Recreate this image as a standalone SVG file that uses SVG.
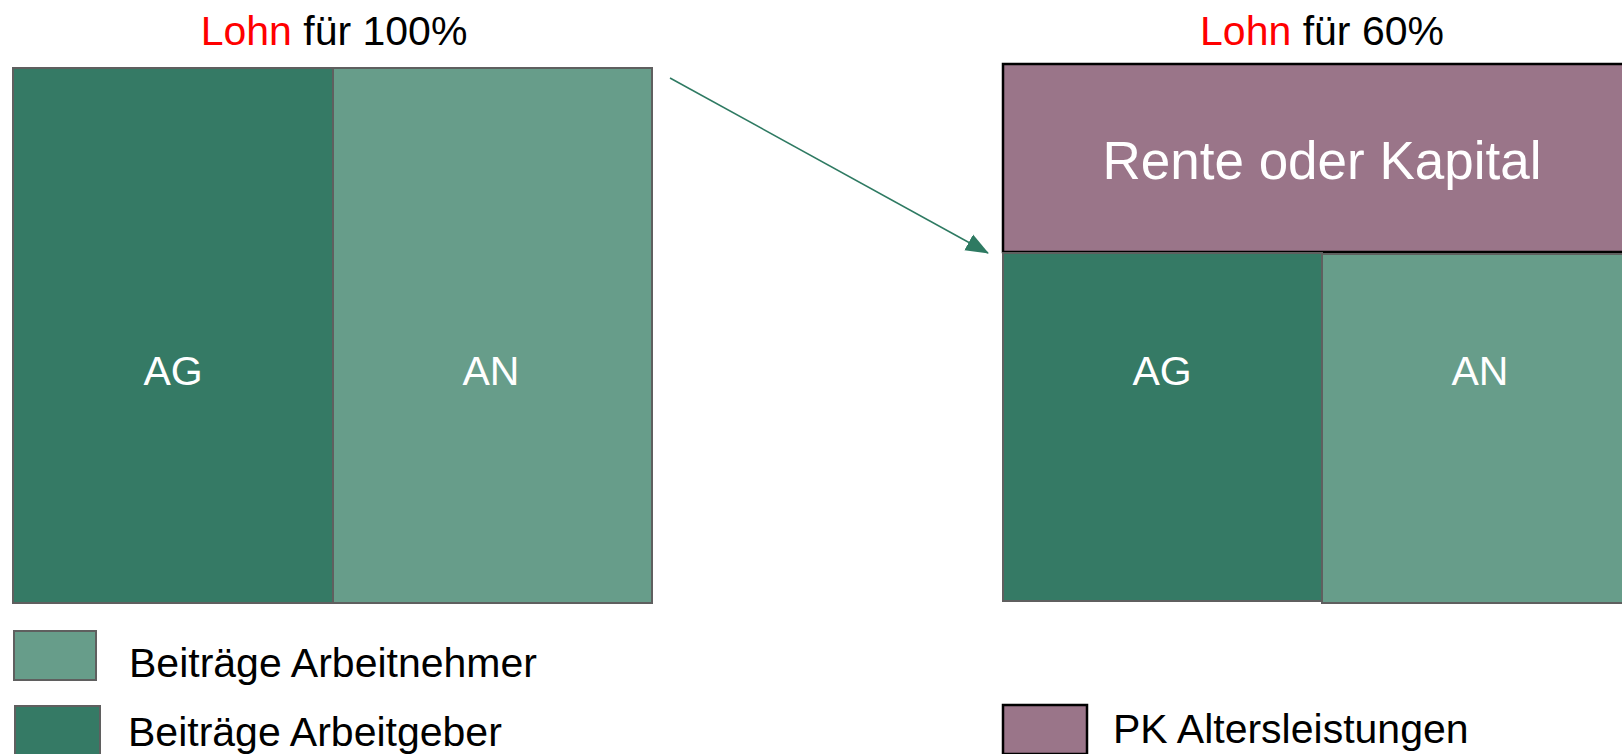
<svg xmlns="http://www.w3.org/2000/svg" width="1622" height="754" viewBox="0 0 1622 754">
<style>
text{font-family:"Liberation Sans",Arial,sans-serif;}
.ag{fill:#357A65;stroke:#5f5f5f;stroke-width:2;}
.an{fill:#679D8A;stroke:#5f5f5f;stroke-width:2;}
.pk{fill:#9A7589;stroke:#000;stroke-width:2.5;}
.lbl{fill:#fff;font-size:41px;text-anchor:middle;}
.title{fill:#000;font-size:41px;text-anchor:middle;}
.red{fill:#FF0000;}
.leg{fill:#000;font-size:41px;}
.conn{stroke:#2E7A62;stroke-width:1.5;fill:none;}
</style>
<defs>
<marker id="ah" markerUnits="userSpaceOnUse" markerWidth="24" markerHeight="20" viewBox="0 0 24 20" refX="22" refY="10" orient="auto">
<path d="M0,1 L23,10 L0,19 Z" fill="#2E7A62"/>
</marker>
</defs>
<rect width="1622" height="754" fill="#fff"/>
<g id="title-left"><text class="title" x="334" y="45"><tspan class="red">Lohn</tspan> für 100%</text></g>
<g id="title-right"><text class="title" x="1322" y="45"><tspan class="red">Lohn</tspan> für 60%</text></g>
<g id="left-ag"><rect class="ag" x="13" y="68" width="320" height="535"/><text class="lbl" x="173" y="385">AG</text></g>
<g id="left-an"><rect class="an" x="333" y="68" width="319" height="535"/><text class="lbl" x="491" y="385">AN</text></g>
<g id="right-pk"><rect class="pk" x="1003" y="64" width="640" height="188"/><text class="lbl" x="1322" y="179" style="font-size:53px">Rente oder Kapital</text></g>
<g id="right-ag"><rect class="ag" x="1003" y="253" width="319" height="348"/><text class="lbl" x="1162" y="385">AG</text></g>
<g id="right-an"><rect class="an" x="1322" y="254" width="320" height="349"/><text class="lbl" x="1480" y="385">AN</text></g>
<g id="legend-an"><rect class="an" x="14" y="631" width="82" height="49"/><text class="leg" x="129" y="677">Beiträge Arbeitnehmer</text></g>
<g id="legend-ag"><rect class="ag" x="15" y="706" width="85" height="50"/><text class="leg" x="128" y="746">Beiträge Arbeitgeber</text></g>
<g id="legend-pk"><rect class="pk" x="1003" y="705" width="84" height="49"/><text class="leg" x="1113" y="743">PK Altersleistungen</text></g>
<g id="connectors"><line class="conn" x1="670" y1="78" x2="988" y2="253" marker-end="url(#ah)"/></g>
</svg>
